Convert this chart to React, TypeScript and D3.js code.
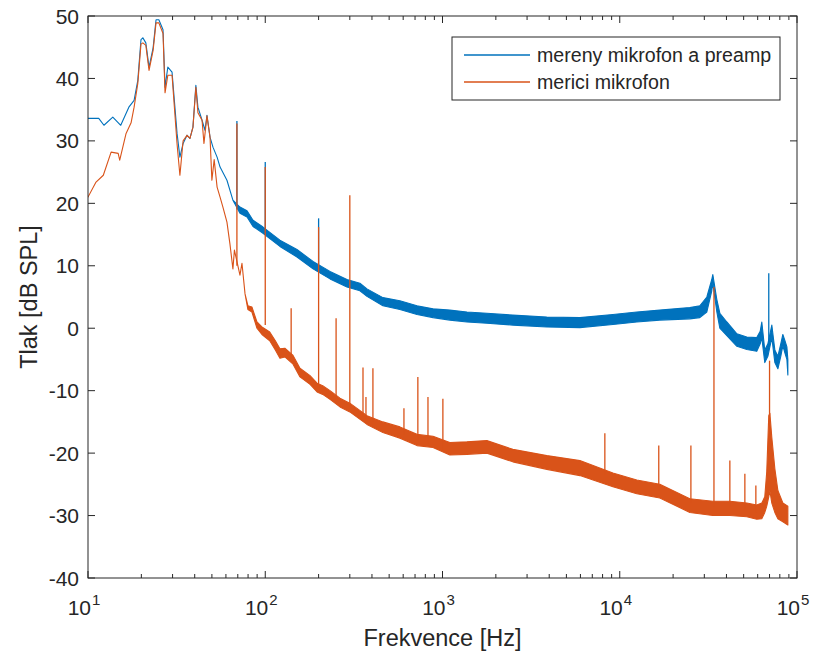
import React from "react";
import * as d3 from "d3";

// ---------- data ----------
const blueFreq = [
  10, 11.5, 12.3, 13.8, 15.3, 17.0, 18.2, 19.1, 19.9, 20.4,
  21.2, 22.1, 23.3, 24.2, 25.1, 26.5, 27.2, 28.2, 29.8, 31.8,
  33.0, 34.4, 36.2, 37.6, 39.1, 40.6, 41.7, 44.0, 45.7, 46.9,
  48.8, 50.7, 53.5, 55.6, 60.8, 65.7, 72.0, 78.9, 85.3, 97.1,
  121, 151, 186, 232, 289, 342, 375, 461, 575, 718,
  884, 1100, 1374, 1780, 2494, 3878, 5960, 9150, 12480, 16830,
  24850, 28300, 31000, 33050, 33500, 35300, 36700, 40200, 45800, 52100,
  59300, 62000, 63300, 65800, 68500, 72100, 75000, 78000, 81000, 83200,
  85500, 87700, 88800,
];
const blueLo = [
  33.6, 33.6, 32.5, 33.8, 32.5, 35.4, 36.5, 39.7, 46.2, 46.5,
  45.7, 41.8, 44.9, 49.4, 49.4, 47.8, 38.6, 41.8, 41.0, 31.2,
  27.4, 29.6, 30.9, 30.4, 32.2, 38.9, 35.4, 33.3, 31.7, 34.1,
  30.6, 29.0, 27.4, 25.8, 23.7, 20.5, 18.4, 17.8, 16.3, 15.2,
  13.1, 11.4, 9.5, 7.9, 6.6, 6.0, 5.1, 3.6, 3.0, 2.2,
  1.7, 1.3, 1.0, 0.8, 0.5, 0.2, 0.1, 0.6, 1.0, 1.3,
  1.5, 1.7, 2.6, 6.0, 7.2, 2.6, 0.0, -1.2, -2.9, -3.4,
  -3.7, -2.5, -1.5, -5.5, -4.5, -1.5, -5.5, -6.5, -4.5, -2.8,
  -4.0, -5.0, -7.5,
];
const blueHi = [
  33.6, 33.6, 32.5, 33.8, 32.5, 35.4, 36.5, 39.7, 46.2, 46.5,
  45.7, 41.8, 44.9, 49.4, 49.4, 47.8, 38.6, 41.8, 41.0, 31.2,
  27.4, 29.6, 30.9, 30.4, 32.2, 38.9, 35.4, 33.3, 31.7, 34.1,
  30.6, 29.0, 27.4, 25.8, 23.7, 20.5, 19.4, 18.8, 17.3, 16.2,
  14.1, 12.6, 10.7, 9.1, 7.8, 7.2, 6.3, 4.9, 4.4, 3.6,
  3.1, 2.9, 2.6, 2.4, 2.1, 1.8, 1.7, 2.2, 2.6, 2.9,
  3.3, 3.6, 5.0, 7.8, 8.6, 4.6, 2.4, 1.0, -0.9, -1.4,
  -1.5, -0.5, 1.0, -3.5, -2.5, 0.5, -3.5, -4.5, -2.5, -1.0,
  -2.0, -3.0, -5.0,
];

const orangeFreq = [
  10, 11.1, 12.2, 13.5, 14.8, 15.1, 16.4, 17.5, 18.2, 19.1,
  19.9, 20.4, 21.2, 22.1, 23.3, 24.2, 25.1, 26.5, 27.2, 28.2,
  29.8, 31.8, 33.0, 34.4, 36.2, 37.6, 39.1, 40.6, 41.7, 44.0,
  45.1, 46.9, 48.8, 50.0, 51.5, 53.5, 55.6, 57.7, 60.8, 63.2,
  65.7, 67.0, 72.0, 73.9, 76.9, 79.8, 84.1, 89.8, 95.8, 106,
  114, 121, 129, 143, 157, 179, 196, 211, 232, 264,
  300, 375, 461, 575, 718, 884, 1100, 1374, 1780, 2494,
  3878, 5960, 9150, 12480, 16830, 24850, 33500, 41800, 52100, 59300,
  63300, 65800, 67500, 69300, 70300, 72100, 75000, 78000, 83200, 88800,
];
const orangeLo = [
  21.0, 23.4, 24.5, 28.2, 28.0, 26.9, 31.2, 32.9, 35.4, 39.2,
  45.5, 45.7, 45.3, 41.3, 44.5, 48.9, 48.9, 47.2, 37.7, 40.5,
  40.5, 29.5, 24.5, 30.0, 30.9, 30.4, 32.2, 38.6, 34.5, 33.3,
  29.6, 34.0, 30.6, 23.7, 27.0, 22.6, 21.0, 19.4, 17.0, 13.5,
  9.5, 12.5, 8.5, 10.4, 5.5, 3.0, 2.6, 0.0, -1.0, -2.0,
  -3.5, -4.8, -4.6, -5.7, -7.8, -9.0, -10.2, -10.6, -11.4, -12.6,
  -13.4, -15.4, -16.7, -17.6, -18.8, -19.1, -20.3, -20.2, -20.0, -21.4,
  -22.6, -23.6, -25.4, -26.5, -27.2, -29.5, -30.0, -30.0, -30.2, -30.6,
  -30.5, -29.5, -28.5, -27.0, -26.0, -28.0, -29.5, -30.5, -31.0, -31.5,
];
const orangeHi = [
  21.0, 23.4, 24.5, 28.2, 28.0, 26.9, 31.2, 32.9, 35.4, 39.2,
  45.5, 45.7, 45.3, 41.3, 44.5, 48.9, 48.9, 47.2, 37.7, 40.5,
  40.5, 29.5, 24.5, 30.0, 30.9, 30.4, 32.2, 38.6, 34.5, 33.3,
  29.6, 34.0, 30.6, 23.7, 27.0, 22.6, 21.0, 19.4, 17.0, 13.5,
  9.5, 12.5, 8.5, 10.4, 5.5, 3.6, 3.4, 1.0, 0.2, -0.6,
  -2.0, -3.3, -3.2, -4.3, -6.4, -7.6, -8.8, -9.2, -10.0, -11.2,
  -12.0, -14.0, -15.0, -15.8, -17.0, -17.3, -18.3, -18.2, -18.0, -19.4,
  -20.4, -21.2, -23.2, -24.3, -25.0, -27.3, -27.7, -27.7, -28.0, -28.3,
  -28.0, -27.0, -23.0, -14.0, -13.6, -17.5, -22.5, -26.0, -28.0, -28.5,
];

const blueSpikeFreq = [69.2, 100, 200, 69300];
const blueSpikeBase = [19.0, 15.7, 10.0, -3.0];
const blueSpikeTop = [33.2, 26.6, 17.6, 8.8];

const orangeSpikeFreq = [69.2, 100, 140, 200, 251, 300, 356, 370, 405, 606, 726, 828, 1005, 8240, 16600, 25200, 34000, 41800, 50800, 58600, 70000];
const orangeSpikeBase = [10, 0.5, -4.8, -9.5, -11.5, -12.5, -14.2, -14.5, -15, -17, -18, -18.5, -19.5, -23.5, -26, -28, -28.5, -28.5, -29, -29.5, -14];
const orangeSpikeTop = [32.8, 25.8, 3.2, 16.2, 1.6, 21.3, -6.3, -11.0, -6.4, -12.8, -7.8, -11.0, -11.3, -16.8, -18.8, -18.8, 6.6, -21.2, -23.3, -25.2, -5.2];

const yTicks = [-40, -30, -20, -10, 0, 10, 20, 30, 40, 50];
const xDecadeExponents = [1, 2, 3, 4, 5];
const seriesNames = ["mereny mikrofon a preamp", "merici mikrofon"];
const seriesColors = ["#0072BD", "#D95319"];
const xLabel = "Frekvence [Hz]";
const yLabel = "Tlak [dB SPL]";

// ---------- component ----------
const W = 822;
const H = 655;
const L = 88, R = 797, T = 16, B = 578;
const FONT = "'Liberation Sans', Arial, Helvetica, sans-serif";
const AX = "#262626";

export default function App() {
  const x = d3.scaleLog().domain([10, 1e5]).range([L, R]);
  const y = d3.scaleLinear().domain([-40, 50]).range([B, T]);

  const band = (f: number[], lo: number[], hi: number[]) =>
    d3
      .area<number>()
      .x((_, i) => x(f[i]))
      .y0((_, i) => y(lo[i]))
      .y1((_, i) => y(hi[i]))(f.map((_, i) => i)) || "";

  const minorTicks: number[] = [];
  for (let e = 1; e < 5; e++) {
    for (let k = 2; k <= 9; k++) minorTicks.push(k * Math.pow(10, e));
  }

  const series = [
    { f: blueFreq, lo: blueLo, hi: blueHi, sf: blueSpikeFreq, sb: blueSpikeBase, st: blueSpikeTop, c: seriesColors[0] },
    { f: orangeFreq, lo: orangeLo, hi: orangeHi, sf: orangeSpikeFreq, sb: orangeSpikeBase, st: orangeSpikeTop, c: seriesColors[1] },
  ];

  return (
    <svg
      width={W}
      height={H}
      style={{ position: "absolute", left: 0, top: 0, background: "#fff" }}
      fontFamily={FONT}
    >
      <rect x={0} y={0} width={W} height={H} fill="#fff" />
      <defs>
        <clipPath id="plotclip">
          <rect x={L} y={T} width={R - L} height={B - T} />
        </clipPath>
      </defs>

      <g clipPath="url(#plotclip)">
        {series.map((s, si) => (
          <g key={si}>
            <path d={band(s.f, s.lo, s.hi)} fill={s.c} stroke={s.c} strokeWidth={1.1} strokeLinejoin="round" />
            {s.sf.map((fq, i) => (
              <line key={i} x1={x(fq)} x2={x(fq)} y1={y(s.sb[i])} y2={y(s.st[i])} stroke={s.c} strokeWidth={1.3} />
            ))}
          </g>
        ))}
      </g>

      {/* axes box */}
      <rect x={L} y={T} width={R - L} height={B - T} fill="none" stroke={AX} strokeWidth={1} />

      {/* y ticks */}
      {yTicks.map((t) => (
        <g key={t}>
          <line x1={L} x2={L + 7} y1={y(t)} y2={y(t)} stroke={AX} />
          <line x1={R} x2={R - 7} y1={y(t)} y2={y(t)} stroke={AX} />
          <text x={L - 9} y={y(t)} dy="0.36em" textAnchor="end" fontSize={21} fill={AX}>
            {t}
          </text>
        </g>
      ))}

      {/* x major ticks */}
      {xDecadeExponents.map((e) => {
        const xv = x(Math.pow(10, e));
        return (
          <g key={e}>
            <line x1={xv} x2={xv} y1={B} y2={B - 7} stroke={AX} />
            <line x1={xv} x2={xv} y1={T} y2={T + 7} stroke={AX} />
            <text x={xv - 4} y={615} textAnchor="middle" fontSize={21} fill={AX}>
              10
              <tspan dx={1} dy={-10} fontSize={15}>{e}</tspan>
            </text>
          </g>
        );
      })}
      {minorTicks.map((v) => (
        <g key={v}>
          <line x1={x(v)} x2={x(v)} y1={B} y2={B - 4} stroke={AX} />
          <line x1={x(v)} x2={x(v)} y1={T} y2={T + 4} stroke={AX} />
        </g>
      ))}

      {/* axis labels */}
      <text x={(L + R) / 2} y={646} textAnchor="middle" fontSize={23.5} fill={AX}>
        {xLabel}
      </text>
      <text
        transform={`translate(37, ${(T + B) / 2}) rotate(-90)`}
        textAnchor="middle"
        fontSize={23.5}
        fill={AX}
      >
        {yLabel}
      </text>

      {/* legend */}
      <rect x={452} y={37} width={328} height={63} fill="#fff" stroke={AX} strokeWidth={1} />
      {seriesNames.map((n, i) => (
        <g key={n}>
          <line x1={464} x2={530} y1={55 + i * 27} y2={55 + i * 27} stroke={seriesColors[i]} strokeWidth={1.3} />
          <text x={537} y={55 + i * 27} dy="0.36em" fontSize={19.6} fill={AX}>
            {n}
          </text>
        </g>
      ))}
    </svg>
  );
}
